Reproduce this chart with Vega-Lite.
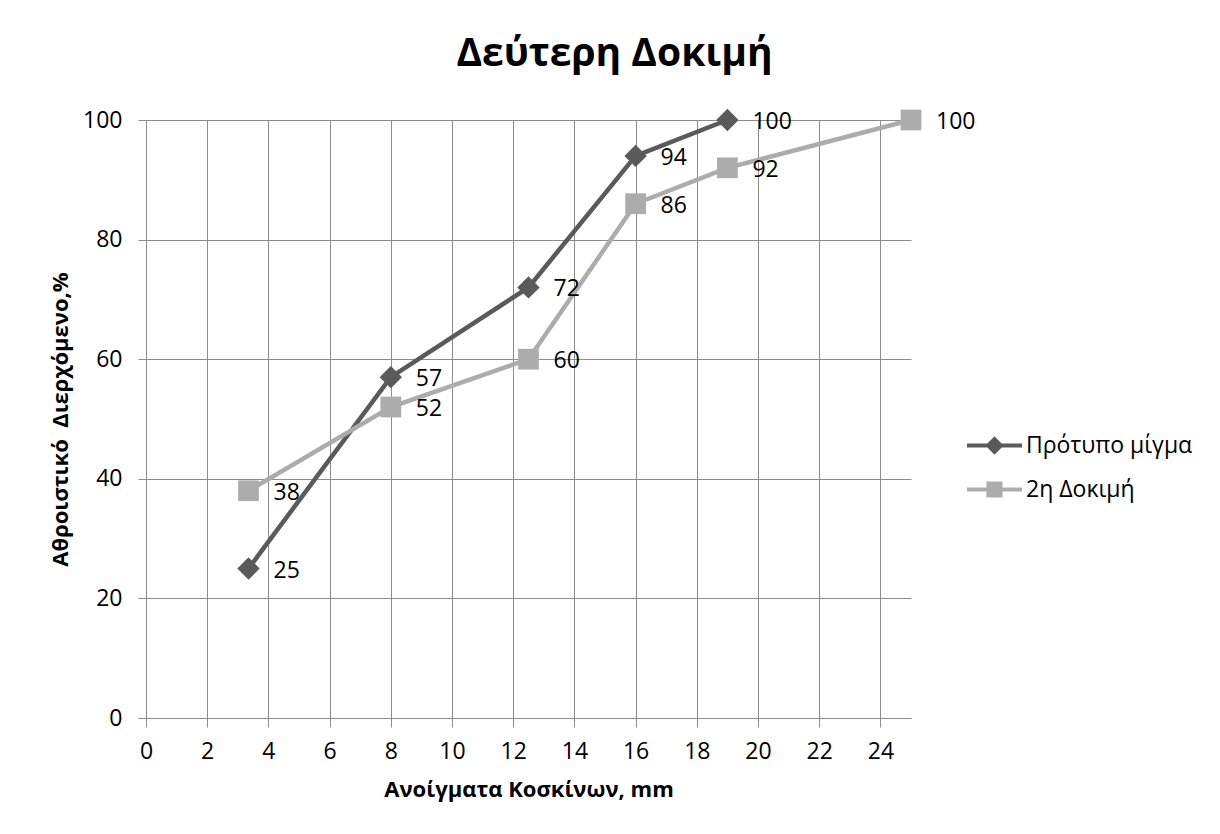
{
  "$schema": "https://vega.github.io/schema/vega-lite/v6.json",
  "width": 765,
  "height": 598,
  "autosize": "none",
  "padding": {"left": 146, "top": 120, "right": 309, "bottom": 116},
  "background": "white",
  "config": {"view": {"stroke": null}, "font": "Open Sans"},
  "title": {"text": "Δεύτερη Δοκιμή", "font": "Open Sans", "fontSize": 39, "fontWeight": "bold", "color": "#000000", "anchor": "middle", "dx": 86, "offset": 35},
  "data": {"values": [
    {"mm": 3.35, "pct": 25, "series": "Πρότυπο μίγμα"},
    {"mm": 8, "pct": 57, "series": "Πρότυπο μίγμα"},
    {"mm": 12.5, "pct": 72, "series": "Πρότυπο μίγμα"},
    {"mm": 16, "pct": 94, "series": "Πρότυπο μίγμα"},
    {"mm": 19, "pct": 100, "series": "Πρότυπο μίγμα"},
    {"mm": 3.35, "pct": 38, "series": "2η Δοκιμή"},
    {"mm": 8, "pct": 52, "series": "2η Δοκιμή"},
    {"mm": 12.5, "pct": 60, "series": "2η Δοκιμή"},
    {"mm": 16, "pct": 86, "series": "2η Δοκιμή"},
    {"mm": 19, "pct": 92, "series": "2η Δοκιμή"},
    {"mm": 25, "pct": 100, "series": "2η Δοκιμή"}
  ]},
  "encoding": {
    "x": {"field": "mm", "type": "quantitative",
      "scale": {"domain": [0, 25], "nice": false, "zero": false},
      "axis": {"values": [0, 2, 4, 6, 8, 10, 12, 14, 16, 18, 20, 22, 24], "title": "Ανοίγματα Κοσκίνων, mm",
        "grid": true, "gridColor": "#8c8c8c", "gridWidth": 1, "domainColor": "#8c8c8c", "tickColor": "#8c8c8c", "tickSize": 9,
        "labelFlush": false, "labelFont": "Open Sans", "labelFontSize": 23, "labelColor": "#000000", "labelPadding": 13,
        "titleFont": "Open Sans", "titleFontSize": 22, "titleFontWeight": "bold", "titleColor": "#000000", "titlePadding": 16}},
    "y": {"field": "pct", "type": "quantitative",
      "scale": {"domain": [0, 100], "nice": false},
      "axis": {"values": [0, 20, 40, 60, 80, 100], "title": "Αθροιστικό\u00a0 Διερχόμενο,%",
        "grid": true, "gridColor": "#8c8c8c", "gridWidth": 1, "domainColor": "#8c8c8c", "tickColor": "#8c8c8c", "tickSize": 8,
        "labelFlush": false, "labelFont": "Open Sans", "labelFontSize": 23, "labelColor": "#000000", "labelPadding": 16,
        "titleFont": "Open Sans", "titleFontSize": 22, "titleFontWeight": "bold", "titleColor": "#000000", "titlePadding": 10}}
  },
  "layer": [
    {"transform": [{"filter": "datum.series === 'Πρότυπο μίγμα'"}],
     "mark": {"type": "line", "strokeWidth": 4.5, "color": "#5a5a5a"},
     "encoding": {"order": {"field": "mm", "type": "quantitative"}}},
    {"transform": [{"filter": "datum.series === '2η Δοκιμή'"}],
     "mark": {"type": "line", "strokeWidth": 4.5, "color": "#acacac"},
     "encoding": {"order": {"field": "mm", "type": "quantitative"}}},
    {"transform": [{"filter": "datum.series === 'Πρότυπο μίγμα'"}],
     "mark": {"type": "point", "shape": "diamond", "filled": true, "size": 500, "color": "#5a5a5a", "opacity": 1}},
    {"transform": [{"filter": "datum.series === '2η Δοκιμή'"}],
     "mark": {"type": "point", "shape": "square", "filled": true, "size": 430, "color": "#acacac", "opacity": 1}},
    {"mark": {"type": "text", "align": "left", "baseline": "middle", "dx": 25, "dy": 2, "fontSize": 23, "font": "Open Sans", "color": "#000000"},
     "encoding": {"text": {"field": "pct", "type": "quantitative"}}},
    {"mark": {"type": "point", "filled": true, "opacity": 0},
     "encoding": {
       "color": {"field": "series", "type": "nominal",
          "scale": {"domain": ["Πρότυπο μίγμα", "2η Δοκιμή"], "range": ["#5a5a5a", "#acacac"]},
          "legend": {
          "orient": "none", "legendX": 819, "legendY": 296, "title": null, "padding": 0,
          "symbolSize": 3025, "symbolStrokeWidth": 4, "symbolOpacity": 1, "labelOffset": 2, "labelLimit": 400,
          "labelFont": "Open Sans", "labelFontSize": 23, "labelColor": "#000000", "rowPadding": -7,
          "encode": {"symbols": {"update": {"stroke": {"scale": "color", "field": "value"}, "fill": {"scale": "color", "field": "value"}, "opacity": {"value": 1}}}}}},
       "shape": {"field": "series", "type": "nominal",
          "scale": {"domain": ["Πρότυπο μίγμα", "2η Δοκιμή"], "range": ["M-1,0H1M0,-0.23L0.23,0L0,0.23L-0.23,0Z", "M-1,0H1M-0.22,-0.22H0.22V0.22H-0.22Z"]},
          "legend": {
          "orient": "none", "legendX": 819, "legendY": 296, "title": null, "padding": 0,
          "symbolSize": 3025, "symbolStrokeWidth": 4, "symbolOpacity": 1, "labelOffset": 2, "labelLimit": 400,
          "labelFont": "Open Sans", "labelFontSize": 23, "labelColor": "#000000", "rowPadding": -7,
          "encode": {"symbols": {"update": {"stroke": {"scale": "color", "field": "value"}, "fill": {"scale": "color", "field": "value"}, "opacity": {"value": 1}}}}}}
     }}
  ]
}
